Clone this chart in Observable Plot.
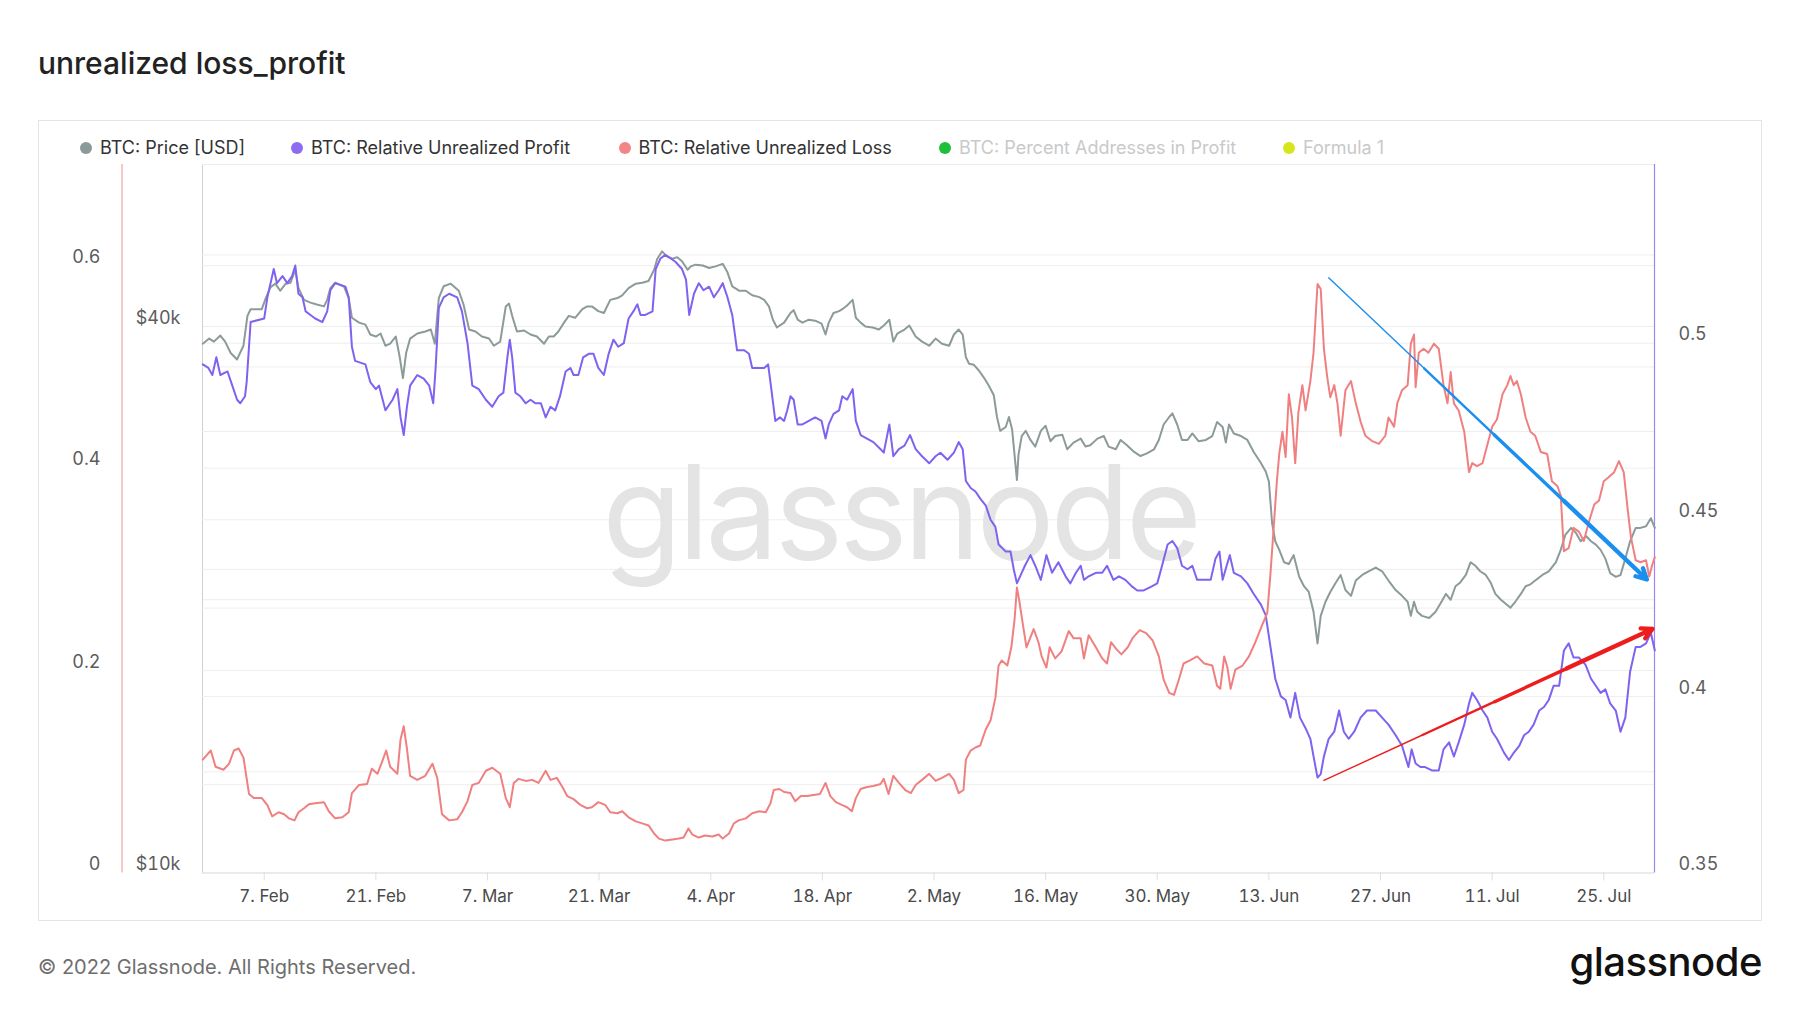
<!DOCTYPE html>
<html>
<head>
<meta charset="utf-8">
<script src="https://cdn.jsdelivr.net/npm/d3@7"></script>
<script src="https://cdn.jsdelivr.net/npm/@observablehq/plot@0.6"></script>
<style>
  html, body { margin: 0; padding: 0; background: #fff; }
  #page { position: relative; width: 1800px; height: 1013px; overflow: hidden; font-family: Inter, "Noto Sans", sans-serif; }
  #title { position: absolute; left: 38px; top: 45px; font-size: 30px; line-height: 36px; font-weight: 500; color: #222; white-space: nowrap; }
  #box { position: absolute; left: 38px; top: 120px; width: 1722px; height: 799px; border: 1px solid #e4e4e4; }
  #chart { position: absolute; left: 0; top: 0; width: 1800px; height: 1013px; }
  .layer { position: absolute; left: 0; top: 120px; width: 1800px; }
  .layer svg { display: block; }
  .lg { position: absolute; top: 137px; display: flex; align-items: center; font-size: 18px; line-height: 22px; white-space: nowrap; }
  .lg .dot { width: 12px; height: 12px; border-radius: 50%; margin-right: 8px; flex: none; }
  #watermark { position: absolute; left: 900px; top: 447px; transform: translateX(-50%); font-size: 130px; line-height: 130px; letter-spacing: -4px; color: #e4e4e4; white-space: nowrap; font-weight: 400; }
  #copy { position: absolute; left: 38px; top: 955px; font-size: 20px; line-height: 24px; color: #6e6e6e; white-space: nowrap; }
  #logo { position: absolute; right: 38px; top: 942px; font-size: 40px; line-height: 40px; font-weight: 500; color: #111; letter-spacing: -0.5px; white-space: nowrap; }
</style>
</head>
<body>
<div id="page">
  <div id="title">unrealized loss_profit</div>
  <div id="box"></div>
  <div id="chart"></div>
  <div id="copy">© 2022 Glassnode. All Rights Reserved.</div>
  <div id="logo">glassnode</div>
</div>
<script>
// ---------------- DATA (day offsets from 2022-01-30 UTC) ----------------
const startDate = "2022-01-30";

const legendLabels = ["BTC: Price [USD]", "BTC: Relative Unrealized Profit", "BTC: Relative Unrealized Loss", "BTC: Percent Addresses in Profit", "Formula 1"];
const legendActive = [true, true, true, false, false];

const xTickDays = [8, 22, 36, 50, 64, 78, 92, 106, 120, 134, 148, 162, 176];

const lossTicks = [0, 0.2, 0.4, 0.6];
const lossGrid = [0.1, 0.2, 0.3, 0.4, 0.5, 0.6];
const priceTicks = [10000, 40000];
const priceGrid = [20000, 40000];
const profitTicks = [0.35, 0.4, 0.45, 0.5];
const profitGrid = [0.375, 0.4, 0.425, 0.45, 0.475, 0.5, 0.525];

const priceUSD = [[0.3,38300],[1.1,38800],[1.7,38500],[2.5,39100],[3.1,38500],[3.8,37400],[4.6,36800],[5.4,38100],[5.9,41100],[6.3,41800],[7.7,41800],[8.2,43000],[8.8,44200],[9.4,44600],[10.0,43800],[10.7,44600],[11.3,44700],[11.9,46200],[12.3,44100],[13.0,42800],[13.8,42500],[14.6,42300],[15.5,42100],[15.9,42800],[16.3,44100],[16.9,44700],[18.0,44300],[18.6,43000],[19.0,40900],[19.9,40400],[20.7,40200],[21.3,39200],[22.0,39000],[22.6,39300],[23.2,38100],[23.8,38300],[24.5,39000],[25.0,37000],[25.4,35100],[25.8,37400],[26.3,38800],[27.2,39300],[28.2,39500],[28.9,39700],[29.4,38300],[29.9,43000],[30.5,44300],[31.4,44600],[32.4,43800],[33.0,42300],[33.7,39700],[34.5,39500],[35.3,39000],[36.2,38800],[36.8,38100],[37.6,38500],[38.3,42100],[38.7,42400],[39.1,41100],[39.7,39500],[40.6,39600],[41.4,39200],[42.2,39000],[43.1,38300],[43.7,39000],[44.3,39000],[44.9,39500],[45.6,40400],[46.2,41100],[47.0,40900],[47.9,41800],[48.5,42100],[49.1,42100],[49.9,41600],[50.6,41400],[51.4,42800],[52.3,43000],[52.9,43300],[53.7,44100],[54.6,44600],[55.4,44700],[56.2,44900],[56.9,46200],[57.3,47500],[57.9,48400],[58.5,47800],[59.2,47500],[59.8,47700],[60.4,47200],[61.1,46200],[61.5,46600],[62.1,46800],[63.0,46700],[63.8,46400],[64.6,46600],[65.5,46900],[66.1,45900],[66.7,44300],[67.6,43800],[68.4,43800],[69.2,43300],[70.1,43100],[70.7,42800],[71.3,42100],[71.8,40700],[72.3,39900],[73.2,40400],[74.0,41400],[74.4,41700],[74.9,40700],[75.5,40400],[76.3,40700],[77.1,40600],[77.9,40300],[78.4,39200],[78.8,40400],[79.4,41400],[80.1,41600],[80.5,41800],[81.1,42200],[81.8,42800],[82.2,40900],[82.8,40400],[83.4,40000],[84.3,39900],[85.1,39700],[85.7,40100],[86.4,40700],[86.9,38500],[87.4,39300],[88.3,39700],[88.9,40100],[89.7,39000],[90.5,38500],[91.4,38100],[92.2,38800],[93.0,38300],[93.9,38100],[94.5,39200],[95.1,39700],[95.6,39200],[96.0,37000],[96.4,36400],[97.0,36300],[97.6,35800],[98.3,35100],[98.9,34400],[99.5,33600],[99.9,31800],[100.3,30700],[101.0,31000],[101.4,31800],[101.8,30800],[102.1,28900],[102.4,27100],[102.6,28900],[103.0,30300],[103.5,30700],[104.1,30000],[104.7,29500],[105.4,30700],[106.0,31100],[106.6,29900],[107.2,30300],[108.1,30400],[108.7,29300],[109.5,29800],[110.4,30100],[111.0,29500],[111.6,29600],[112.5,30100],[113.3,30300],[113.9,29500],[114.8,29300],[115.4,30000],[116.2,29600],[117.1,29100],[117.9,28800],[118.7,29000],[119.6,29300],[120.2,30000],[120.8,31200],[121.5,31800],[121.9,32100],[122.5,31200],[123.1,30000],[123.8,30000],[124.4,30500],[125.2,29900],[126.1,30000],[126.9,30300],[127.5,31400],[128.2,31000],[128.6,29800],[129.0,31200],[129.6,30500],[130.5,30300],[131.3,30000],[132.1,29100],[133.0,28300],[133.6,27700],[134.0,27000],[134.4,24300],[134.8,23200],[135.3,22700],[135.9,22000],[136.5,21900],[137.1,22400],[137.8,21200],[138.4,20700],[139.0,20400],[139.6,19400],[140.1,17900],[140.5,19200],[141.1,19900],[141.7,20400],[142.4,20900],[143.0,21300],[143.6,20500],[144.3,20200],[144.9,21000],[145.7,21300],[146.5,21500],[147.4,21700],[148.2,21500],[149.0,21000],[149.9,20500],[150.7,20200],[151.4,19900],[151.8,19200],[152.2,19900],[152.6,19400],[153.2,19200],[154.1,19100],[154.9,19400],[155.5,19800],[156.2,20300],[156.8,20000],[157.4,20700],[158.0,20900],[158.7,21300],[159.3,22000],[159.9,21800],[160.5,21500],[161.2,21300],[161.8,20900],[162.4,20300],[163.1,20000],[163.7,19800],[164.3,19600],[164.9,19900],[165.6,20300],[166.2,20700],[166.8,20800],[167.4,21000],[168.3,21300],[169.1,21500],[170.0,22000],[170.6,22700],[171.2,23600],[171.9,24000],[172.5,23700],[173.1,23200],[173.8,23500],[174.4,23200],[175.0,23000],[175.6,22700],[176.2,22200],[176.8,21400],[177.5,21200],[178.1,21300],[178.7,22200],[179.3,23200],[180.0,24000],[180.6,24000],[181.3,24100],[181.9,24600],[182.4,24000]];

const relUnrealizedProfit = [[0.3,.494],[1,.493],[1.5,.491],[2,.496],[2.5,.491],[3.4,.492],[4,.488],[4.6,.484],[5,.483],[5.6,.485],[5.8,.489],[6.3,.506],[8,.507],[8.2,.510],[8.4,.513],[9.2,.521],[9.6,.517],[10.3,.519],[10.9,.517],[11.5,.519],[11.9,.522],[12.3,.514],[12.8,.513],[13.2,.509],[13.8,.508],[14.4,.507],[15.3,.506],[15.9,.509],[16.3,.515],[16.9,.517],[18.2,.516],[18.6,.513],[19.0,.499],[19.4,.495],[20.7,.494],[21.3,.489],[22,.487],[22.4,.488],[23.2,.481],[24.1,.484],[24.7,.487],[25.1,.479],[25.5,.474],[25.9,.482],[26.3,.488],[27.2,.491],[28,.490],[28.7,.488],[29.2,.483],[29.5,.493],[29.9,.510],[30.5,.513],[31.2,.514],[32.2,.513],[32.8,.509],[33.5,.500],[34.1,.488],[34.9,.487],[35.8,.484],[36.6,.482],[37.4,.485],[38.0,.486],[38.5,.496],[38.8,.501],[39.1,.496],[39.5,.486],[40.1,.485],[40.8,.483],[41.4,.484],[42.0,.483],[42.7,.483],[43.3,.479],[43.9,.482],[44.5,.481],[45.1,.485],[45.8,.492],[46.4,.493],[46.8,.491],[47.4,.491],[48.0,.496],[48.7,.497],[49.3,.497],[49.9,.493],[50.6,.491],[51.2,.497],[51.8,.501],[52.4,.499],[53.1,.500],[53.7,.507],[54.3,.509],[54.8,.511],[55.2,.508],[55.8,.508],[56.7,.509],[57.1,.521],[57.7,.524],[58.3,.525],[59.0,.524],[59.6,.523],[60.4,.521],[60.9,.518],[61.3,.508],[61.9,.514],[62.5,.517],[63.1,.515],[63.8,.516],[64.4,.513],[65.0,.515],[65.5,.517],[66.1,.513],[66.7,.508],[67.3,.498],[68.2,.498],[68.8,.497],[69.2,.493],[69.8,.493],[70.7,.493],[71.2,.494],[71.6,.487],[72.1,.478],[72.7,.479],[73.2,.478],[73.6,.481],[74.0,.485],[74.4,.484],[74.9,.477],[75.5,.477],[76.3,.478],[77.1,.479],[77.9,.478],[78.4,.473],[78.8,.477],[79.4,.480],[80.1,.481],[80.5,.485],[81.1,.484],[81.8,.487],[82.2,.478],[82.8,.474],[83.6,.473],[84.4,.472],[85.3,.470],[85.7,.469],[86.4,.477],[86.9,.468],[87.6,.470],[88.3,.471],[89.0,.474],[89.7,.470],[90.5,.468],[91.4,.466],[92.2,.468],[92.8,.469],[93.7,.467],[94.5,.469],[95.1,.472],[95.6,.470],[96.0,.461],[96.6,.459],[97.2,.458],[97.8,.456],[98.5,.454],[99.1,.450],[99.7,.448],[100.1,.443],[101.0,.441],[101.6,.441],[102.0,.436],[102.4,.432],[102.8,.434],[103.4,.437],[104.1,.440],[104.7,.437],[105.4,.433],[106.1,.440],[106.8,.435],[107.6,.438],[108.5,.434],[109.1,.432],[109.8,.435],[110.4,.437],[110.8,.433],[111.4,.434],[112.3,.435],[113.1,.435],[113.7,.437],[114.5,.433],[115.2,.434],[116.0,.433],[116.9,.431],[117.5,.430],[118.3,.430],[119.2,.431],[120.0,.432],[120.6,.437],[121.3,.443],[121.9,.444],[122.5,.442],[123.1,.437],[123.8,.436],[124.4,.437],[125.0,.433],[125.9,.433],[126.7,.433],[127.3,.439],[127.8,.441],[128.2,.433],[128.7,.437],[129.1,.440],[129.6,.435],[130.5,.434],[131.3,.432],[132.1,.429],[133.0,.426],[133.6,.423],[134.2,.414],[134.8,.405],[135.5,.400],[136.1,.399],[136.7,.394],[137.3,.401],[137.9,.394],[138.6,.391],[139.2,.388],[139.6,.383],[140.1,.377],[140.5,.378],[140.9,.383],[141.5,.388],[142.2,.390],[142.8,.396],[143.4,.390],[144.0,.388],[144.7,.390],[145.5,.394],[146.3,.396],[147.4,.396],[148.2,.394],[149.0,.392],[149.9,.389],[150.7,.386],[151.5,.380],[151.9,.385],[152.4,.381],[153.0,.380],[153.6,.380],[154.5,.379],[155.3,.379],[155.9,.385],[156.6,.387],[157.2,.383],[157.8,.387],[158.5,.392],[159.1,.398],[159.5,.401],[160.1,.399],[160.8,.396],[161.4,.394],[162.0,.390],[162.6,.388],[163.5,.384],[164.1,.382],[164.7,.384],[165.4,.386],[166.0,.389],[166.6,.390],[167.2,.392],[167.9,.396],[168.5,.397],[169.1,.399],[169.7,.403],[170.4,.403],[171.0,.413],[171.6,.415],[172.2,.411],[172.9,.411],[173.7,.409],[174.4,.405],[175.0,.403],[175.6,.401],[176.2,.402],[176.8,.398],[177.5,.396],[178.1,.390],[178.7,.394],[179.3,.407],[180.0,.414],[180.6,.414],[181.3,.415],[181.9,.418],[182.4,.413]];

const relUnrealizedLoss = [[0.3,.112],[0.85,.117],[1.3,.121],[1.9,.105],[2.9,.102],[3.6,.108],[4.2,.121],[4.8,.123],[5.4,.114],[6.1,.078],[6.7,.074],[7.7,.074],[8.4,.067],[9.0,.056],[9.8,.060],[10.5,.058],[11.1,.054],[11.8,.052],[12.3,.060],[13.0,.064],[13.6,.068],[14.4,.069],[15.5,.070],[16.1,.061],[16.9,.054],[17.8,.055],[18.6,.060],[19.0,.079],[19.9,.087],[20.9,.088],[21.5,.103],[22.2,.098],[22.7,.108],[23.3,.121],[23.8,.105],[24.7,.098],[25.1,.132],[25.5,.145],[25.9,.123],[26.3,.096],[27.2,.092],[28.2,.096],[29.1,.108],[29.7,.094],[30.3,.058],[31.2,.052],[32.2,.053],[32.8,.060],[33.5,.071],[34.1,.087],[34.9,.089],[35.8,.101],[36.6,.104],[37.6,.098],[38.3,.074],[38.8,.065],[39.3,.089],[39.9,.093],[40.8,.091],[41.6,.092],[42.4,.089],[43.3,.101],[43.9,.092],[44.7,.094],[45.4,.085],[46.0,.076],[46.8,.073],[47.7,.067],[48.5,.064],[49.1,.065],[49.9,.070],[50.8,.067],[51.4,.060],[52.3,.059],[52.9,.061],[53.7,.055],[54.6,.051],[55.4,.049],[56.2,.047],[56.9,.039],[57.5,.034],[58.3,.032],[59.2,.033],[60.0,.034],[60.6,.035],[61.2,.044],[61.7,.038],[62.5,.035],[63.3,.037],[64.2,.036],[65.0,.038],[65.5,.034],[66.3,.039],[66.9,.049],[67.5,.052],[68.4,.054],[69.2,.059],[70.1,.061],[70.9,.060],[71.5,.069],[71.9,.082],[72.6,.083],[73.2,.080],[74.0,.079],[74.6,.071],[75.3,.076],[76.1,.076],[76.9,.077],[77.7,.078],[78.4,.089],[79.0,.076],[79.7,.070],[80.5,.067],[81.1,.065],[81.7,.061],[82.2,.074],[82.8,.083],[83.6,.085],[84.4,.086],[85.3,.088],[85.7,.093],[86.3,.078],[86.9,.096],[87.6,.089],[88.4,.082],[89.1,.079],[89.7,.087],[90.5,.092],[91.4,.098],[92.2,.091],[93.0,.094],[93.9,.098],[94.5,.092],[95.1,.079],[95.7,.082],[96.0,.112],[96.6,.121],[97.2,.124],[97.8,.126],[98.5,.142],[99.1,.151],[99.7,.173],[100.1,.205],[100.5,.210],[101.2,.205],[101.7,.223],[102.1,.250],[102.4,.282],[102.7,.269],[103.0,.253],[103.6,.223],[104.5,.241],[105.1,.228],[105.5,.214],[106.1,.203],[106.5,.223],[107.2,.212],[108.0,.219],[108.9,.239],[109.5,.232],[110.4,.232],[110.8,.212],[111.4,.235],[112.3,.223],[113.1,.212],[113.7,.207],[114.2,.228],[114.9,.221],[115.5,.216],[116.3,.223],[116.9,.232],[117.8,.240],[118.6,.237],[119.4,.230],[120.2,.214],[120.8,.191],[121.5,.178],[122.1,.176],[122.7,.191],[123.3,.207],[124.1,.210],[125.0,.214],[125.9,.207],[126.9,.205],[127.5,.185],[127.9,.182],[128.4,.214],[128.8,.203],[129.2,.182],[129.8,.201],[130.7,.205],[131.5,.214],[132.3,.228],[133.1,.244],[133.8,.257],[134.2,.296],[134.6,.341],[135.0,.387],[135.3,.414],[135.7,.436],[136.1,.411],[136.5,.473],[136.9,.450],[137.3,.405],[137.7,.455],[138.2,.482],[138.6,.457],[139.2,.486],[139.6,.514],[140.1,.582],[140.5,.577],[140.9,.518],[141.3,.491],[141.7,.470],[142.2,.482],[142.6,.464],[143.0,.432],[143.6,.477],[144.3,.486],[144.9,.464],[145.5,.446],[146.1,.432],[146.9,.427],[147.8,.424],[148.6,.432],[149.0,.450],[149.7,.441],[150.1,.464],[150.7,.477],[151.4,.482],[151.8,.523],[152.2,.532],[152.4,.480],[152.8,.514],[153.4,.518],[154.0,.514],[154.7,.523],[155.3,.518],[155.9,.482],[156.4,.464],[156.8,.495],[157.2,.464],[157.8,.457],[158.5,.436],[159.1,.396],[159.5,.405],[160.1,.402],[160.8,.405],[161.4,.423],[162.0,.441],[162.6,.448],[163.3,.473],[163.9,.482],[164.3,.491],[164.7,.482],[165.1,.486],[165.6,.473],[166.2,.450],[166.8,.436],[167.4,.432],[168.1,.416],[168.9,.414],[169.5,.387],[170.2,.382],[170.6,.373],[171.0,.318],[171.6,.321],[172.2,.341],[172.9,.337],[173.5,.328],[174.1,.346],[174.8,.364],[175.4,.368],[176.0,.387],[176.6,.391],[177.3,.396],[177.9,.407],[178.5,.396],[179.0,.359],[179.4,.332],[180.0,.309],[180.6,.307],[181.3,.309],[181.7,.293],[182.1,.305],[182.4,.312]];

// annotation arrows (day offset, value on their series' axis)
const blueArrow = {d0: 141.5, v0: 0.588, d1: 181.4, v1: 0.290};   // on loss axis
const redArrow  = {d0: 140.9, v0: 0.3762, d1: 182.1, v1: 0.4191}; // on profit axis

// ---------------- STYLE ----------------
const C = {
  price: "#8c9b99", profit: "#8062f0", loss: "#f08080",
  legend: ["#8a9999", "#8d6cf4", "#f28585", "#1fbf3c", "#d6e61c"],
  blue: "#1a8ff0", red: "#ee1d1d"
};
const W = 1800, H = 800;
const M = {top: 44, right: 146, bottom: 47.5, left: 202};
const BASE = Date.parse(startDate + "T00:00:00Z");
const toDate = d => new Date(BASE + d * 864e5);
const X_DOMAIN = [toDate(0.263), toDate(182.36)];

const yLoss = {type: "linear", domain: [0, 0.7]};
const yPrice = {type: "log", domain: [10000, 60340]};
const yProfit = {type: "linear", domain: [0.35, 0.5506]};

const chart = document.getElementById("chart");

function layer(y, marks, after) {
  const svg = Plot.plot({
    width: W, height: H,
    marginTop: M.top, marginRight: M.right, marginBottom: M.bottom, marginLeft: M.left,
    style: {background: "transparent", fontFamily: "Inter, 'Noto Sans', sans-serif", fontSize: "18px", overflow: "visible"},
    x: {type: "utc", domain: X_DOMAIN, axis: null},
    y: {...y, axis: null},
    marks
  });
  const wrap = document.createElement("div");
  wrap.className = "layer";
  wrap.appendChild(svg);
  chart.appendChild(wrap);
  if (after) after(d3.select(svg));
}

function taper(a, color) {
  const stops = [0, 0.3, 0.52, 0.74, 1], widths = [1.4, 2.4, 3.4, 4.4];
  const segs = widths.map((w, i) => ({
    x1: toDate(a.d0 + (a.d1 - a.d0) * stops[i]), y1: a.v0 + (a.v1 - a.v0) * stops[i],
    x2: toDate(a.d0 + (a.d1 - a.d0) * stops[i + 1]), y2: a.v0 + (a.v1 - a.v0) * stops[i + 1], w
  }));
  return [
    Plot.link(segs.slice(0, -1), {x1: "x1", y1: "y1", x2: "x2", y2: "y2", stroke: color, strokeWidth: "w", strokeLinecap: "round"}),
    Plot.arrow(segs.slice(-1), {x1: "x1", y1: "y1", x2: "x2", y2: "y2", stroke: color, strokeWidth: 4.4, headLength: 4, headAngle: 55, strokeLinecap: "round"})
  ];
}

const gridStroke = "#eeeeee";
const labelFill = "#5c5c5c";

// --- grid / axis layers ---
layer(yPrice, [
  Plot.ruleY(priceGrid, {stroke: gridStroke}),
  Plot.axisY(priceTicks, {anchor: "left", tickSize: 0, tickPadding: 22, dy: -8.5, fill: labelFill, label: null,
    tickFormat: d => "$" + d / 1000 + "k"}),
  Plot.axisX(xTickDays.map(toDate), {anchor: "bottom", tickSize: 8, tickPadding: 9, stroke: "#e0e0e0", fill: "#4a4a4a",
    fontSize: 17, label: null, tickFormat: d3.utcFormat("%-d. %b")}),
  Plot.ruleY([10000], {stroke: "#d6d6d6"}),
  Plot.ruleX([X_DOMAIN[0]], {stroke: "#d0d0d0"})
]);

layer(yLoss, [
  Plot.ruleY(lossGrid, {stroke: gridStroke}),
  Plot.ruleY([0.7], {stroke: "#ececec"}),
  Plot.axisY(lossTicks, {anchor: "left", tickSize: 0, tickPadding: 102, dy: -8.5, fill: labelFill, label: null,
    tickFormat: d => String(d)})
], svg => {
  svg.append("line").attr("x1", 122).attr("x2", 122).attr("y1", M.top).attr("y2", H - M.bottom)
    .attr("stroke", "#f09090").attr("stroke-width", 1);
});

layer(yProfit, [
  Plot.ruleY(profitGrid, {stroke: gridStroke}),
  Plot.axisY(profitTicks, {anchor: "right", tickSize: 0, tickPadding: 24, dy: -8.5, fill: labelFill, label: null,
    tickFormat: d => String(d)}),
  Plot.ruleX([X_DOMAIN[1]], {stroke: "#9d85f5", strokeWidth: 1.2})
]);

// watermark
const wm = document.createElement("div");
wm.id = "watermark";
wm.textContent = "glassnode";
chart.appendChild(wm);

// --- series layers ---
const line = (data, color) => Plot.line(data, {x: d => toDate(d[0]), y: d => d[1], stroke: color, strokeWidth: 2, strokeLinejoin: "round"});

layer(yPrice, [line(priceUSD, C.price)]);
layer(yProfit, [line(relUnrealizedProfit, C.profit), ...taper(redArrow, C.red)]);
layer(yLoss, [line(relUnrealizedLoss, C.loss), ...taper(blueArrow, C.blue)]);

// legend
const legendX = [80, 291, 618.5, 939, 1283];
legendLabels.forEach((label, i) => {
  const el = document.createElement("div");
  el.className = "lg";
  el.style.left = legendX[i] + "px";
  el.style.color = legendActive[i] ? "#333" : "#c9c9c9";
  const dot = document.createElement("span");
  dot.className = "dot";
  dot.style.background = C.legend[i];
  const t = document.createElement("span");
  t.textContent = label;
  el.appendChild(dot); el.appendChild(t);
  chart.appendChild(el);
});
</script>
</body>
</html>
